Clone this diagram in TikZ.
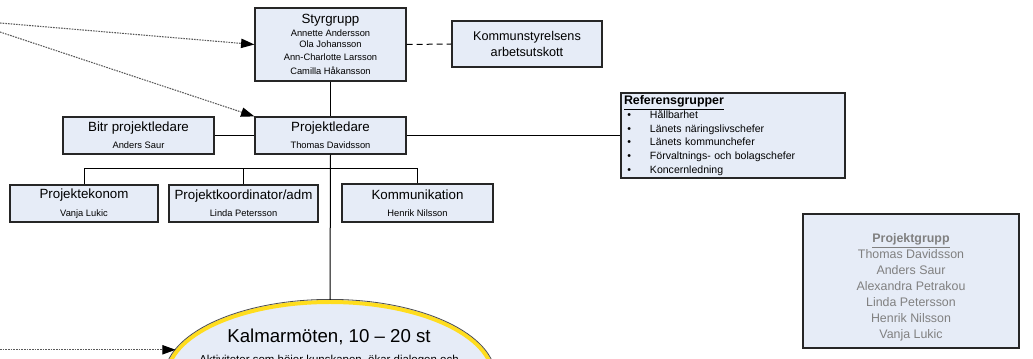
\documentclass[tikz,border=0pt]{standalone}
\usepackage{fontspec}
\setmainfont{Liberation Sans}
\usetikzlibrary{shapes.geometric,arrows.meta,calc}
\newcommand\pxu{0.75pt}
\definecolor{boxfill}{RGB}{230,236,247}
\definecolor{kyellow}{RGB}{255,221,30}
\definecolor{pggray}{RGB}{128,128,128}
\tikzset{
  orgbox/.style={draw=black!85, line width=0.9pt, fill=boxfill, inner sep=0pt, align=center},
  conn/.style={draw=black, line width=0.75pt},
  feed/.style={draw=black!65, dash pattern=on 1.2pt off 0.8pt, line width=0.8pt, -{Triangle[length=10pt,width=7pt,color=black]}},
}
\begin{document}
\begin{tikzpicture}[x=0.75pt,y=-0.75pt]
\useasboundingbox (0,0) rectangle (1033,359);
\clip (0,0) rectangle (1033,359);

% boxes
\node[orgbox, minimum width=151*\pxu, minimum height=73*\pxu, font=\fontsize{7}{9.5}\selectfont] (styr) at (330.5,44.5)
  {{\fontsize{10}{9.5}\selectfont Styrgrupp}\\
   Annette Andersson\\[-1pt]
   Ola Johansson\\
   Ann-Charlotte Larsson\\[1pt]
   Camilla Håkansson};

\node[orgbox, minimum width=150*\pxu, minimum height=46*\pxu, font=\fontsize{9.5}{12.7}\selectfont] (kom) at (527,44)
  {Kommunstyrelsens\\arbetsutskott};

\node[orgbox, minimum width=151*\pxu, minimum height=37*\pxu] (pl) at (330.5,135.5)
  {{\fontsize{10}{12}\selectfont Projektledare}\\[1pt]{\fontsize{7}{9}\selectfont Thomas Davidsson}};

\node[orgbox, minimum width=151*\pxu, minimum height=37*\pxu] (bitr) at (138.5,135.5)
  {{\fontsize{10}{12}\selectfont Bitr projektledare}\\[1pt]{\fontsize{7}{9}\selectfont Anders Saur}};

\node[orgbox, minimum width=148*\pxu, minimum height=37*\pxu] (eko) at (84,203.5)
  {{\fontsize{10}{12}\selectfont Projektekonom}\\[1pt]{\fontsize{7}{9}\selectfont Vanja Lukic}};

\node[orgbox, minimum width=149*\pxu, minimum height=37*\pxu] (koord) at (243.5,203.5)
  {{\fontsize{10}{12}\selectfont Projektkoordinator/adm}\\[1pt]{\fontsize{7}{9}\selectfont Linda Petersson}};

\node[orgbox, minimum width=151*\pxu, minimum height=38*\pxu] (komm) at (417.5,203)
  {{\fontsize{10}{12}\selectfont Kommunikation}\\[1pt]{\fontsize{7}{9}\selectfont Henrik Nilsson}};

\node[orgbox, minimum width=224*\pxu, minimum height=85*\pxu, align=left, text width=218*\pxu,
      font=\fontsize{7.9}{10.3}\selectfont] (ref) at (733,135.5)
  {{\fontsize{9.3}{10}\selectfont\bfseries\underline{Referensgrupper}}\\[-1pt]
   \hspace*{2.5pt}\makebox[17pt][l]{•}Hållbarhet\\
   \hspace*{2.5pt}\makebox[17pt][l]{•}Länets näringslivschefer\\
   \hspace*{2.5pt}\makebox[17pt][l]{•}Länets kommunchefer\\
   \hspace*{2.5pt}\makebox[17pt][l]{•}Förvaltnings- och bolagschefer\\
   \hspace*{2.5pt}\makebox[17pt][l]{•}Koncernledning};

\node[orgbox, minimum width=216*\pxu, minimum height=134*\pxu, text=pggray,
      font=\fontsize{9.3}{12}\selectfont] (pg) at (911,281)
  {\rule{0pt}{16pt}\textbf{\underline{Projektgrupp}}\\Thomas Davidsson\\Anders Saur\\Alexandra Petrakou\\Linda Petersson\\Henrik Nilsson\\Vanja Lukic};

% ellipse
\node[ellipse, draw=kyellow, line width=3pt, fill=boxfill, minimum width=326*\pxu, minimum height=150*\pxu, inner sep=0pt] (kalmar) at (330,377) {};
\draw[black!70, line width=0.6pt] (kalmar.center) ellipse [x radius=124.2pt, y radius=58.2pt];
\node[anchor=base, font=\fontsize{14}{16}\selectfont, inner sep=0pt] (ktitle) at (329,343) {Kalmarmöten, 10 – 20 st};
\node[anchor=base, font=\fontsize{8.6}{10}\selectfont, inner sep=0pt] (ktext) at (329,363.5) {Aktiviteter som höjer kunskapen, ökar dialogen och};

% connectors
\draw[conn] (styr.south) -- (pl.north);
\draw[conn] (pl.south) -- (kalmar.north);
\draw[conn] (bitr.east) -- (pl.west);
\draw[conn] (pl.east) -- (ref.west);
\draw[conn, dashed, dash pattern=on 4.5pt off 3pt] (styr.east) -- (kom.west);
\coordinate (br) at (330.5,169);
\draw[conn] (eko.north) |- (br);
\draw[conn] (koord.north) -- (koord.north |- br);
\draw[conn] (komm.north) |- (br);

% incoming dotted arrows
\coordinate (s1) at (0,23);
\coordinate (s2) at (0,32);
\path (kalmar.170.5) coordinate (k3);
\coordinate (s3) at (0,0 |- k3);
\draw[feed] (s1) -- (styr.west);
\draw[feed] (s2) -- (pl.north west);
\draw[feed] (s3) -- (k3);
\end{tikzpicture}
\end{document}
